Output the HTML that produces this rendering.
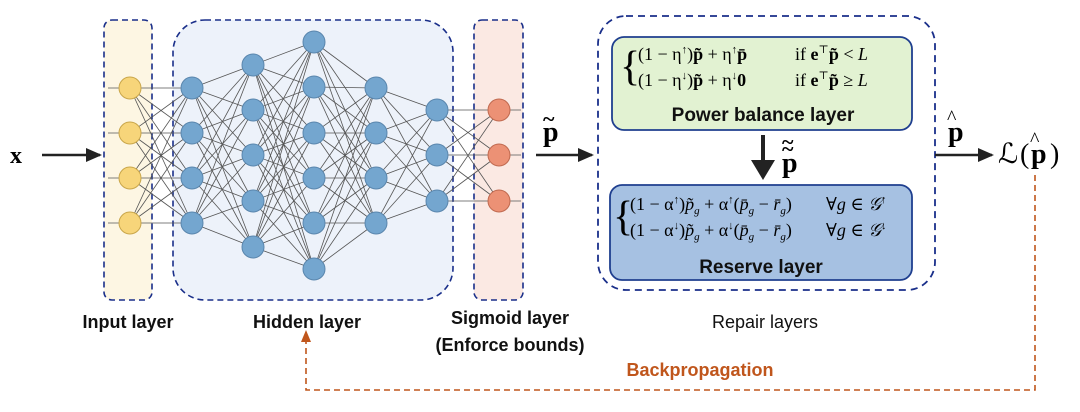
<!DOCTYPE html>
<html><head><meta charset="utf-8"><style>
body{margin:0;width:1080px;height:412px;background:#fff;overflow:hidden;font-family:"Liberation Sans",sans-serif}
svg{position:absolute;left:0;top:0}
.m{font-family:"Liberation Serif","DejaVu Serif",serif}
</style></head><body>
<svg id="s" width="1080" height="412" xmlns="http://www.w3.org/2000/svg">
<defs><marker id="ah" markerWidth="16" markerHeight="14" refX="14" refY="7" orient="auto" markerUnits="userSpaceOnUse"><path d="M0,0 L16,7 L0,14z" fill="#222"/></marker></defs>
<rect x="104" y="20" width="48" height="280" rx="8" fill="#fdf6e3" stroke="#1a2f8a" stroke-width="1.6" stroke-dasharray="6,4"/>
<rect x="173" y="20" width="280" height="280" rx="32" fill="#edf2fa" stroke="#1a2f8a" stroke-width="1.6" stroke-dasharray="6,4"/>
<rect x="474" y="20" width="49" height="280" rx="8" fill="#fbe9e3" stroke="#1a2f8a" stroke-width="1.6" stroke-dasharray="6,4"/>
<rect x="598" y="16" width="337" height="274" rx="28" fill="none" stroke="#1a2f8a" stroke-width="1.8" stroke-dasharray="7,5"/>
<rect x="612" y="37" width="300" height="93" rx="12" fill="#e2f2d2" stroke="#1f3f8f" stroke-width="1.8"/>
<rect x="610" y="185" width="302" height="95" rx="12" fill="#a6c1e2" stroke="#1f3f8f" stroke-width="1.8"/>
<g id="lines" stroke="#555" stroke-width="0.8"></g>
<g id="nodes"></g>
<line x1="42" y1="155" x2="100" y2="155" stroke="#222" stroke-width="2.5" marker-end="url(#ah)"/>
<line x1="536" y1="155" x2="592" y2="155" stroke="#222" stroke-width="2.5" marker-end="url(#ah)"/>
<line x1="935" y1="155" x2="992" y2="155" stroke="#222" stroke-width="2.5" marker-end="url(#ah)"/>
<line x1="763" y1="135" x2="763" y2="162" stroke="#222" stroke-width="4"/>
<path d="M751,160 L775,160 L763,180z" fill="#222"/>
<path d="M1035,175 L1035,390 L306,390 L306,340" fill="none" stroke="#c0561c" stroke-width="1.6" stroke-dasharray="6,4"/>
<path d="M301,342 L311,342 L306,330z" fill="#c0561c"/>
<text x="10" y="163" class="m" font-size="24" font-weight="bold">x</text>
<text x="543" y="141" class="m" font-size="28" font-weight="bold">p</text><text x="543" y="126" class="m" font-size="22" font-weight="bold">~</text>
<text x="948" y="141" class="m" font-size="28" font-weight="bold">p</text><text x="947" y="124" class="m" font-size="20">^</text>
<text x="998" y="163" class="m" font-size="28">ℒ</text><text x="1020" y="163" class="m" font-size="28">(</text><text x="1031" y="163" class="m" font-size="28" font-weight="bold">p</text><text x="1030" y="146" class="m" font-size="20">^</text><text x="1050" y="163" class="m" font-size="28">)</text>
<text x="782" y="172" class="m" font-size="28" font-weight="bold">p</text><text x="782" y="156" class="m" font-size="22" font-weight="bold">~</text><text x="782" y="149" class="m" font-size="22" font-weight="bold">~</text>
<g class="m" font-size="18">
<text x="620" y="80" font-size="42">{</text>
<text x="638" y="60">(1 − η<tspan font-size="11" dy="-7">↑</tspan><tspan dy="7">)</tspan><tspan font-weight="bold">p̃</tspan> + η<tspan font-size="11" dy="-7">↑</tspan><tspan dy="7" font-weight="bold">p̄</tspan></text>
<text x="795" y="60">if <tspan font-weight="bold">e</tspan><tspan font-size="11" dy="-7">⊤</tspan><tspan dy="7" font-weight="bold">p̃</tspan> &lt; <tspan font-style="italic">L</tspan></text>
<text x="638" y="86">(1 − η<tspan font-size="11" dy="-7">↓</tspan><tspan dy="7">)</tspan><tspan font-weight="bold">p̃</tspan> + η<tspan font-size="11" dy="-7">↓</tspan><tspan dy="7" font-weight="bold">0</tspan></text>
<text x="795" y="86">if <tspan font-weight="bold">e</tspan><tspan font-size="11" dy="-7">⊤</tspan><tspan dy="7" font-weight="bold">p̃</tspan> ≥ <tspan font-style="italic">L</tspan></text>
<text x="613" y="230" font-size="42">{</text>
<text x="630" y="210">(1 − α<tspan font-size="11" dy="-7">↑</tspan><tspan dy="7">)</tspan><tspan font-style="italic">p̃</tspan><tspan font-size="11" dy="4" font-style="italic">g</tspan><tspan dy="-4"> + α</tspan><tspan font-size="11" dy="-7">↑</tspan><tspan dy="7">(</tspan><tspan font-style="italic">p̄</tspan><tspan font-size="11" dy="4" font-style="italic">g</tspan><tspan dy="-4"> − </tspan><tspan font-style="italic">r̄</tspan><tspan font-size="11" dy="4" font-style="italic">g</tspan><tspan dy="-4">)</tspan></text>
<text x="826" y="210">∀<tspan font-style="italic">g</tspan> ∈ <tspan font-style="italic">𝒢</tspan><tspan font-size="11" dy="-7">↑</tspan></text>
<text x="630" y="236">(1 − α<tspan font-size="11" dy="-7">↓</tspan><tspan dy="7">)</tspan><tspan font-style="italic">p̃</tspan><tspan font-size="11" dy="4" font-style="italic">g</tspan><tspan dy="-4"> + α</tspan><tspan font-size="11" dy="-7">↓</tspan><tspan dy="7">(</tspan><tspan font-style="italic">p̄</tspan><tspan font-size="11" dy="4" font-style="italic">g</tspan><tspan dy="-4"> − </tspan><tspan font-style="italic">r̄</tspan><tspan font-size="11" dy="4" font-style="italic">g</tspan><tspan dy="-4">)</tspan></text>
<text x="826" y="236">∀<tspan font-style="italic">g</tspan> ∈ <tspan font-style="italic">𝒢</tspan><tspan font-size="11" dy="-7">↓</tspan></text>
</g>
<g font-weight="bold" font-size="18" text-anchor="middle" fill="#111">
<text x="763" y="121" font-size="19">Power balance layer</text>
<text x="761" y="273" font-size="19">Reserve layer</text>
<text x="128" y="328">Input layer</text>
<text x="307" y="328">Hidden layer</text>
<text x="510" y="324">Sigmoid layer</text>
<text x="510" y="351">(Enforce bounds)</text>
<text x="765" y="328" font-weight="normal">Repair layers</text>
<text x="700" y="376" fill="#c0561c">Backpropagation</text>
</g>
</svg>
<script>
var L=[[130,[88,133,178,223]],[192,[88,133,178,223]],[253,[65,110,155,201,247]],[314,[42,87,133,178,223,269]],[376,[88,133,178,223]],[437,[110,155,201]],[499,[110,155,201]]];
var ns="http://www.w3.org/2000/svg",lg=document.getElementById('lines'),ng=document.getElementById('nodes');
function el(t,a,p){var e=document.createElementNS(ns,t);for(var k in a)e.setAttribute(k,a[k]);p.appendChild(e);}
for(var i=0;i<L.length-1;i++){L[i][1].forEach(function(a){L[i+1][1].forEach(function(b){el('line',{x1:L[i][0],y1:a,x2:L[i+1][0],y2:b},lg);});});}
L[0][1].forEach(function(y){el('line',{x1:108,y1:y,x2:130,y2:y},lg);});
L[6][1].forEach(function(y){el('line',{x1:499,y1:y,x2:521,y2:y},lg);});
L.forEach(function(l,i){var f=i==0?'#f7d57a':i==6?'#ec9175':'#74a6cf',s=i==0?'#c9a64a':i==6?'#c06a50':'#5a86ad';l[1].forEach(function(y){el('circle',{cx:l[0],cy:y,r:11,fill:f,stroke:s,'stroke-width':1},ng);});});
</script>
</body></html>
